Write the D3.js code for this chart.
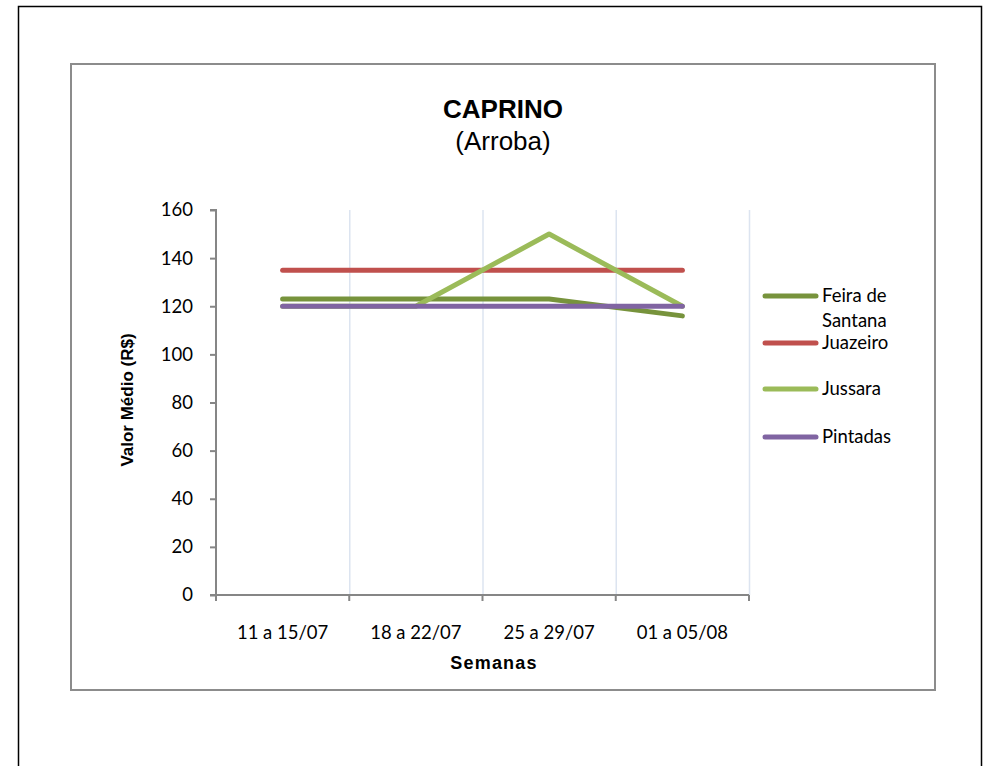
<!DOCTYPE html>
<html><head><meta charset="utf-8">
<script src="https://cdn.jsdelivr.net/npm/d3@7/dist/d3.min.js"></script>
<style>body{margin:0;background:#fff}svg{display:block}</style>
</head><body>
<script>
const categories = ["11 a 15/07", "18 a 22/07", "25 a 29/07", "01 a 05/08"];
const feiraDeSantana = [123, 123, 123, 116];
const juazeiro = [135, 135, 135, 135];
const jussara = [120, 120, 150, 120];
const pintadas = [120, 120, 120, 120];
const seriesNames = ["Feira de Santana", "Juazeiro", "Jussara", "Pintadas"];
const seriesColors = ["#77933C", "#C0504D", "#9BBB59", "#8064A2"];
const yTicks = [0, 20, 40, 60, 80, 100, 120, 140, 160];

const series = [feiraDeSantana, juazeiro, jussara, pintadas].map((v, i) => ({name: seriesNames[i], color: seriesColors[i], values: v}));

const W = 987, H = 766;
const svg = d3.select("body").append("svg").attr("width", W).attr("height", H);

// page frame
svg.append("path").attr("d", "M18.5,766 L18.5,6.5 L981.5,6.5 L981.5,766").attr("fill", "none").attr("stroke", "#000").attr("stroke-width", 1.5);
// chart frame
svg.append("rect").attr("x", 71).attr("y", 64).attr("width", 864).attr("height", 626)
  .attr("fill", "#fff").attr("stroke", "#8c8c8c").attr("stroke-width", 2);

const x0 = 216, x1 = 749, yTop = 210, yBot = 595;
const x = d3.scaleBand().domain(categories).range([x0, x1]).paddingInner(0).paddingOuter(0);
const y = d3.scaleLinear().domain([0, 160]).range([yBot, yTop]);

const font = "Lato, 'Open Sans', sans-serif";
const arial = "Arial, 'Liberation Sans', sans-serif";

// vertical gridlines at category boundaries
svg.append("g").selectAll("line").data(d3.range(1, categories.length + 1)).join("line")
  .attr("x1", i => x0 + x.bandwidth() * i + 0.5)
  .attr("x2", i => x0 + x.bandwidth() * i + 0.5)
  .attr("y1", yTop).attr("y2", yBot)
  .attr("stroke", "#DCE4F0").attr("stroke-width", 1.5);

// y axis
const yAxis = svg.append("g").attr("transform", `translate(${x0},0)`)
  .call(d3.axisLeft(y).tickValues(yTicks).tickSize(6).tickPadding(17));
yAxis.select(".domain").attr("stroke", "#868686").attr("stroke-width", 2).attr("d", `M-6,${yTop}H0V${yBot}`);
yAxis.selectAll(".tick line").attr("stroke", "#868686").attr("stroke-width", 2);
yAxis.selectAll("text").attr("font-family", font).attr("font-size", 18.5).attr("fill", "#000");

// x axis
const xAxis = svg.append("g").attr("transform", `translate(0,${yBot})`)
  .call(d3.axisBottom(x).tickSize(0).tickPadding(31));
xAxis.select(".domain").attr("stroke", "#868686").attr("stroke-width", 2).attr("d", `M${x0 - 6},0H${x1}`);
xAxis.selectAll("text").attr("font-family", font).attr("font-size", 18.5).attr("fill", "#000");
svg.append("g").selectAll("line").data(d3.range(categories.length + 1)).join("line")
  .attr("x1", i => x0 + i * x.bandwidth()).attr("x2", i => x0 + i * x.bandwidth())
  .attr("y1", yBot).attr("y2", yBot + 6)
  .attr("stroke", "#868686").attr("stroke-width", 2);

// lines
const line = d3.line().x((d, i) => x(categories[i]) + x.bandwidth() / 2).y(d => y(d));
svg.append("g").selectAll("path").data(series).join("path")
  .attr("d", d => line(d.values))
  .attr("fill", "none").attr("stroke", d => d.color).attr("stroke-width", 5)
  .attr("stroke-linecap", "round").attr("stroke-linejoin", "round");

// title
svg.append("text").attr("x", 503).attr("y", 118).attr("text-anchor", "middle")
  .attr("font-family", arial).attr("font-weight", "bold").attr("font-size", 26)
  .text("CAPRINO");
svg.append("text").attr("x", 503).attr("y", 150).attr("text-anchor", "middle")
  .attr("font-family", arial).attr("font-size", 26)
  .text("(Arroba)");

// axis titles
svg.append("text").attr("transform", "translate(133,400) rotate(-90)").attr("text-anchor", "middle")
  .attr("font-family", arial).attr("font-weight", "bold").attr("font-size", 17)
  .text("Valor Médio (R$)");
svg.append("text").attr("x", 494).attr("y", 669).attr("text-anchor", "middle")
  .attr("font-family", arial).attr("font-weight", "bold").attr("font-size", 18).attr("letter-spacing", 1.2)
  .text("Semanas");

// legend
const legY = [296, 343, 389, 437];
const leg = svg.append("g").selectAll("g").data(series).join("g")
  .attr("transform", (d, i) => `translate(0,${legY[i]})`);
leg.append("line").attr("x1", 765).attr("x2", 816).attr("y1", 0).attr("y2", 0)
  .attr("stroke", d => d.color).attr("stroke-width", 5).attr("stroke-linecap", "round");
leg.each(function(d) {
  const t = d3.select(this).append("text").attr("x", 822).attr("y", 6)
    .attr("font-family", font).attr("font-size", 18.5).attr("fill", "#000");
  if (d.name === "Feira de Santana") {
    t.append("tspan").attr("x", 822).attr("dy", 0).text("Feira de");
    t.append("tspan").attr("x", 822).attr("dy", 25).text("Santana");
  } else t.text(d.name);
});
</script>
</body></html>
